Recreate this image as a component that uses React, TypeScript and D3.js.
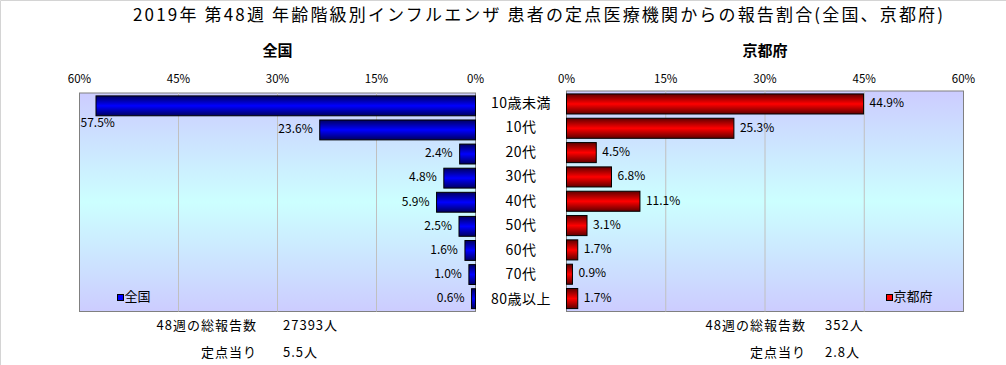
import * as React from "react";
import { scaleBand, scaleLinear } from "d3";

const categories = ["10歳未満", "10代", "20代", "30代", "40代", "50代", "60代", "70代", "80歳以上"];
const nationalValues = [57.5, 23.6, 2.4, 4.8, 5.9, 2.5, 1.6, 1.0, 0.6];
const kyotoValues = [44.9, 25.3, 4.5, 6.8, 11.1, 3.1, 1.7, 0.9, 1.7];
const tickValues = [0, 15, 30, 45, 60];
const title = "2019年 第48週 年齢階級別インフルエンザ 患者の定点医療機関からの報告割合(全国、京都府)";
const nationalFooter = ["48週の総報告数", "27393人", "定点当り", "5.5人"];
const kyotoFooter = ["48週の総報告数", "352人", "定点当り", "2.8人"];

const W = 1006;
const H = 365;
const FONT = "'Noto Sans CJK JP', 'DejaVu Sans', sans-serif";

interface IPanelProps {
  values: number[];
  side: "left" | "right";
  x0: number;
  x1: number;
  top: number;
  bottom: number;
  name: string;
  fillId: string;
  legendColor: string;
}

const Panel = (props: IPanelProps) => {
  const { values, side, x0, x1, top, bottom, name, fillId, legendColor } = props;
  const left = side === "left";
  // left panel runs from 0% at the centre outwards to the left
  const x = scaleLinear().domain([0, 60]).range(left ? [x1, x0] : [x0, x1]);
  const y = scaleBand<string>()
    .domain(categories)
    .range([top, bottom])
    .paddingInner(0.175)
    .paddingOuter(0.12);

  return (
    <g fontFamily={FONT}>
      <rect x={x0} y={top} width={x1 - x0} height={bottom - top} fill="url(#plotBg)" stroke="#808080" />
      {tickValues.map((t) => (
        <g key={t}>
          {t !== 0 && t !== 60 && (
            <line x1={x(t)} x2={x(t)} y1={top} y2={bottom} stroke="#c0c0c0" />
          )}
          <text x={x(t)} y={80} fontSize={11.5} textAnchor="middle" dominantBaseline="middle">
            {t}%
          </text>
        </g>
      ))}
      {values.map((v, i) => {
        const c = categories[i];
        const by = y(c) ?? 0;
        const bx = Math.min(x(0), x(v));
        const bw = Math.abs(x(v) - x(0));
        const cy = by + y.bandwidth() / 2;
        const label = `${v.toFixed(1)}%`;
        let lx = left ? x(v) - 7 : x(v) + 6;
        let ly = cy;
        let anchor = left ? "end" : "start";
        if (left && x(v) - 40 < x0) {
          lx = x0 + 1;
          ly = by + y.bandwidth() + 8;
          anchor = "start";
        }
        return (
          <g key={c}>
            <rect x={bx} y={by} width={bw} height={y.bandwidth()} fill={`url(#${fillId})`} stroke="#000" strokeWidth={1} />
            <text x={lx} y={ly} fontSize={12} textAnchor={anchor} dominantBaseline="middle">
              {label}
            </text>
          </g>
        );
      })}
      <text x={(x0 + x1) / 2} y={52} fontSize={15} fontWeight="bold" textAnchor="middle" dominantBaseline="middle">
        {name}
      </text>
      <g transform={`translate(${left ? x0 + 38 : x1 - 77},${bottom - 14})`}>
        <rect x={0} y={-3} width={6} height={6} fill={legendColor} stroke="#000" />
        <text x={7} y={0} fontSize={13} dominantBaseline="middle">
          {name}
        </text>
      </g>
    </g>
  );
};

const Footer = (props: { lines: string[]; xRight: number; xValue: number }) => {
  const { lines, xRight, xValue } = props;
  return (
    <g fontFamily={FONT} fontSize={13} letterSpacing={1}>
      <text x={xRight} y={326} textAnchor="end" dominantBaseline="middle">{lines[0]}</text>
      <text x={xValue} y={326} dominantBaseline="middle">{lines[1]}</text>
      <text x={xRight} y={353} textAnchor="end" dominantBaseline="middle">{lines[2]}</text>
      <text x={xValue} y={353} dominantBaseline="middle">{lines[3]}</text>
    </g>
  );
};

export default function App() {
  const y = scaleBand<string>().domain(categories).range([91, 313]).paddingInner(0.175).paddingOuter(0.12);
  return (
    <svg width={W} height={H} style={{ position: "absolute", left: 0, top: 0, background: "#fff" }}>
      <defs>
        <linearGradient id="plotBg" x1="0" y1="0" x2="0" y2="1">
          <stop offset="0%" stopColor="#ccccff" />
          <stop offset="50%" stopColor="#ccffff" />
          <stop offset="100%" stopColor="#ccccff" />
        </linearGradient>
        <linearGradient id="blueBar" x1="0" y1="0" x2="0" y2="1">
          <stop offset="0%" stopColor="#000060" />
          <stop offset="50%" stopColor="#0000ff" />
          <stop offset="100%" stopColor="#000060" />
        </linearGradient>
        <linearGradient id="redBar" x1="0" y1="0" x2="0" y2="1">
          <stop offset="0%" stopColor="#600000" />
          <stop offset="50%" stopColor="#ff0000" />
          <stop offset="100%" stopColor="#600000" />
        </linearGradient>
      </defs>
      <line x1={0.5} y1={0.5} x2={W} y2={0.5} stroke="#d4d4d4" />
      <line x1={0.5} y1={0.5} x2={0.5} y2={H} stroke="#d4d4d4" />
      <text x={133} y={16} fontFamily={FONT} fontSize={17} textLength={810} lengthAdjust="spacing" dominantBaseline="middle">
        {title}
      </text>
      <Panel values={nationalValues} side="left" x0={79.5} x1={475.5} top={93} bottom={311.5} name="全国" fillId="blueBar" legendColor="#0000ff" />
      <Panel values={kyotoValues} side="right" x0={566.5} x1={963.5} top={91} bottom={311.5} name="京都府" fillId="redBar" legendColor="#ff0000" />
      {categories.map((c) => (
        <text key={c} x={521} y={(y(c) ?? 0) + y.bandwidth() / 2} fontFamily={FONT} fontSize={14} letterSpacing={0.5} textAnchor="middle" dominantBaseline="middle">
          {c}
        </text>
      ))}
      <Footer lines={nationalFooter} xRight={257} xValue={283} />
      <Footer lines={kyotoFooter} xRight={806} xValue={825} />
    </svg>
  );
}
